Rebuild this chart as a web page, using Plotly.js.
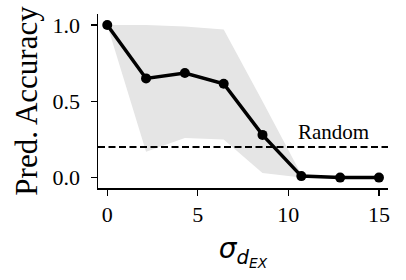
<!DOCTYPE html>
<html>
<head>
<meta charset="utf-8">
<script src="https://cdn.plot.ly/plotly-3.0.1.min.js"></script>
<style>html,body{margin:0;padding:0;background:#fff;}#chart{width:406px;height:280px;}</style>
</head>
<body>
<div id="chart"></div>
<script>
// Data
const sigma = [0, 2.143, 4.286, 6.429, 8.571, 10.714, 12.857, 15];
const accuracy = [1.0, 0.65, 0.685, 0.615, 0.28, 0.01, 0.0, 0.0];
const bandLower = [1.0, 0.17, 0.26, 0.25, 0.03, 0.0, 0.0, 0.0];
const bandUpper = [1.0, 1.0, 0.99, 0.97, 0.5, 0.02, 0.0, 0.0];
const randomLevel = 0.2;
const randomLabel = "Random";
const xTicks = [0, 5, 10, 15];
const xTickLabels = ["0", "5", "10", "15"];
const yTicks = [0.0, 0.5, 1.0];
const yTickLabels = ["0.0", "0.5", "1.0"];
const X_RANGE = [-0.51, 15.5];
const Y_RANGE = [-0.068, 1.072];

const serif = "'Liberation Serif', serif";

const traces = [
  {x: sigma, y: bandLower, mode: 'lines', line: {width: 0, color: 'rgba(0,0,0,0)'}, hoverinfo: 'skip', showlegend: false},
  {x: sigma, y: bandUpper, mode: 'lines', line: {width: 0, color: 'rgba(0,0,0,0)'}, fill: 'tonexty', fillcolor: '#e5e5e5', hoverinfo: 'skip', showlegend: false},
  {x: X_RANGE, y: [randomLevel, randomLevel], mode: 'lines', line: {color: '#000', width: 2, dash: '7px,3.5px'}, showlegend: false},
  {x: sigma, y: accuracy, mode: 'lines+markers', line: {color: '#000', width: 3.5}, marker: {color: '#000', size: 10}, showlegend: false, cliponaxis: false}
];

const layout = {
  width: 406, height: 280,
  margin: {l: 98, r: 18, t: 14, b: 92},
  paper_bgcolor: '#fff', plot_bgcolor: '#fff',
  showlegend: false,
  xaxis: {
    range: X_RANGE, tickvals: xTicks, ticktext: xTickLabels,
    showgrid: false, zeroline: false, showline: true, linecolor: '#000', linewidth: 1.5,
    ticks: 'outside', ticklen: 6, tickwidth: 1.3, tickcolor: '#000',
    tickfont: {family: serif, size: 22, color: '#000'},
    title: {text: '<i>σ</i><sub><i>d</i><sub><i>EX</i></sub></sub>', font: {family: 'DejaVu Sans', size: 28, color: '#000'}, standoff: 12},
    automargin: false
  },
  yaxis: {
    range: Y_RANGE, tickvals: yTicks, ticktext: yTickLabels,
    showgrid: false, zeroline: false, showline: true, linecolor: '#000', linewidth: 1.5,
    ticks: 'outside', ticklen: 6, tickwidth: 1.3, tickcolor: '#000',
    tickfont: {family: serif, size: 22, color: '#000'},
    ticklabelstandoff: 6,
    title: {text: 'Pred. Accuracy', font: {family: serif, size: 31, color: '#000'}, standoff: 5},
    automargin: false
  },
  annotations: [{
    x: 12.47, y: randomLevel, xref: 'x', yref: 'y', text: randomLabel, showarrow: false,
    xanchor: 'center', yanchor: 'bottom', yshift: 1,
    font: {family: serif, size: 21, color: '#000'}
  }]
};

Plotly.newPlot('chart', traces, layout, {staticPlot: true, displayModeBar: false});
</script>
</body>
</html>
